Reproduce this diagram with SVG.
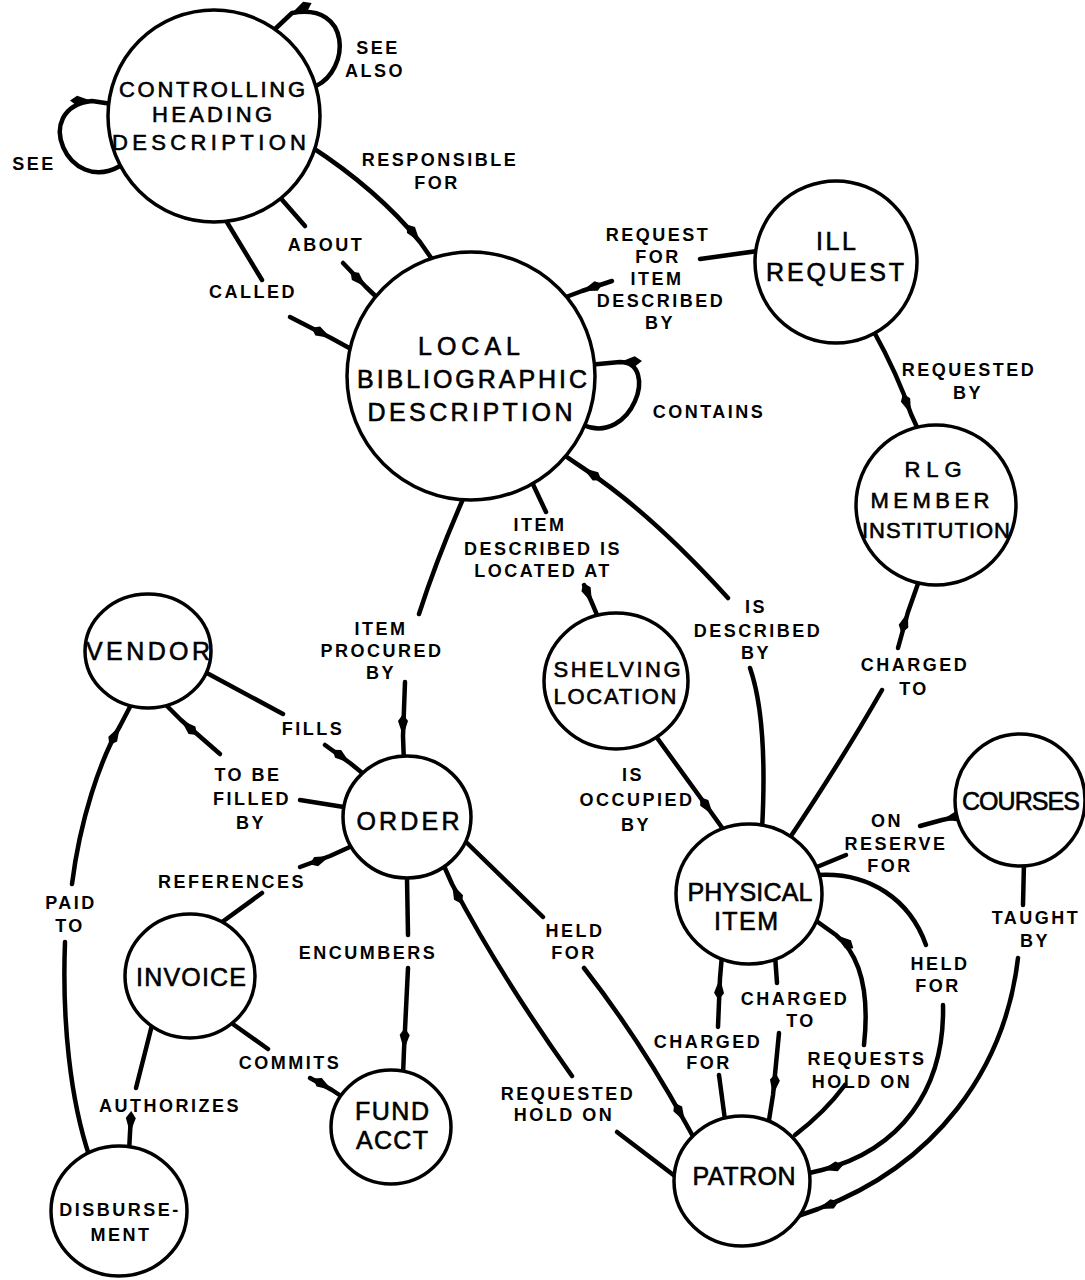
<svg xmlns="http://www.w3.org/2000/svg" width="1085" height="1280" viewBox="0 0 1085 1280">
<defs>
<marker id="ah" markerUnits="userSpaceOnUse" markerWidth="24" markerHeight="14" viewBox="0 0 24 14" refX="22" refY="7" orient="auto"><path d="M0,7 L7,2 L22,7 L7,12 z" fill="#000"/></marker>
<style>
.n{fill:#fff;stroke:#000;stroke-width:3.5}
.c{fill:none;stroke:#000;stroke-width:4.5;stroke-linecap:round;stroke-linejoin:round}
.a{marker-mid:url(#ah)}
.nl{font-family:"Liberation Sans",Arial,sans-serif;font-size:25px;text-anchor:middle;fill:#000;stroke:#000;stroke-width:0.6}
.sm{font-size:22px}
.el{font-family:"Liberation Sans",Arial,sans-serif;font-size:18px;font-weight:bold;letter-spacing:2.5px;text-anchor:middle;fill:#000}
</style>
</defs>
<rect width="1085" height="1280" fill="#fff"/>
<g id="connectors">
<path class="c a" d="M120,166 C68,196 30,108 92,101 L112,104"/>
<path class="c a" d="M316,86 C350,70 352,2 292,13 L274,30"/>
<path class="c a" d="M310,146 Q378,190 420,242 L434,262"/>
<path class="c" d="M277,194 L305,226"/>
<path class="c a" d="M343,263 L366,287 L388,308"/>
<path class="c" d="M222,214 L262,280"/>
<path class="c a" d="M290,317 L331,338 L362,355"/>
<path class="c a" d="M583,425 C632,446 660,362 620,362 L588,365"/>
<path class="c" d="M765,250 L700,259"/>
<path class="c a" d="M612,281 L582,291 L558,300"/>
<path class="c a" d="M873,330 Q898,375 911,414 L921,436"/>
<path class="c" d="M785,845 Q842,760 882,690"/>
<path class="c a" d="M898,648 L908,612 L920,578"/>
<path class="c" d="M467,490 Q438,555 419,614"/>
<path class="c a" d="M405,682 L403,736 L404,764"/>
<path class="c" d="M530,478 L546,512"/>
<path class="c a" d="M584,585 L592,603 L600,622"/>
<path class="c" d="M762,830 Q768,720 750,668"/>
<path class="c a" d="M728,598 Q650,512 583,468 L558,451"/>
<path class="c a" d="M655,735 L713,815 L728,836"/>
<path class="c a" d="M965,815 L942,820 L920,826"/>
<path class="c" d="M846,855 L812,869"/>
<path class="c" d="M1024,862 L1023,905"/>
<path class="c a" d="M1018,958 C1005,1070 935,1165 818,1209 L795,1217"/>
<path class="c" d="M818,875 C870,872 910,900 926,945"/>
<path class="c a" d="M943,1005 C945,1090 900,1150 822,1170 L805,1174"/>
<path class="c" d="M795,1135 Q825,1112 845,1085"/>
<path class="c a" d="M864,1045 C870,990 860,955 836,935 L815,920"/>
<path class="c" d="M775,955 L777,983"/>
<path class="c a" d="M779,1033 L773,1095 L769,1120"/>
<path class="c" d="M725,1120 L719,1075"/>
<path class="c a" d="M718,1027 L720,978 L722,955"/>
<path class="c" d="M466,842 L543,917"/>
<path class="c a" d="M584,968 Q640,1040 685,1122 L695,1140"/>
<path class="c" d="M680,1180 L617,1132"/>
<path class="c a" d="M572,1076 Q500,975 452,884 L444,866"/>
<path class="c" d="M205,672 L283,714"/>
<path class="c a" d="M325,745 L350,763 L366,776"/>
<path class="c" d="M350,808 L300,800"/>
<path class="c a" d="M220,754 L181,720 L163,702"/>
<path class="c" d="M218,925 L262,893"/>
<path class="c a" d="M300,867 L330,856 L352,846"/>
<path class="c" d="M407,878 L408,935"/>
<path class="c a" d="M408,968 L404,1050 L403,1075"/>
<path class="c" d="M230,1022 L268,1049"/>
<path class="c a" d="M310,1078 L332,1090 L350,1102"/>
<path class="c" d="M152,1025 L136,1088"/>
<path class="c a" d="M131,1116 L130,1133 L129,1152"/>
<path class="c" d="M90,1158 C70,1100 62,1020 65,942"/>
<path class="c a" d="M72,884 C80,820 100,760 120,726 L132,703"/>
</g>
<g id="edge-labels">
<text class="el" x="34" y="170">SEE</text>
<text class="el" x="378" y="54">SEE</text>
<text class="el" x="375" y="77">ALSO</text>
<text class="el" x="440" y="166">RESPONSIBLE</text>
<text class="el" x="437" y="189">FOR</text>
<text class="el" x="326" y="251">ABOUT</text>
<text class="el" x="253" y="298">CALLED</text>
<text class="el" x="709" y="418">CONTAINS</text>
<text class="el" x="658" y="241">REQUEST</text>
<text class="el" x="658" y="263">FOR</text>
<text class="el" x="657" y="285">ITEM</text>
<text class="el" x="661" y="307">DESCRIBED</text>
<text class="el" x="660" y="329">BY</text>
<text class="el" x="969" y="376">REQUESTED</text>
<text class="el" x="968" y="399">BY</text>
<text class="el" x="540" y="531">ITEM</text>
<text class="el" x="543" y="555">DESCRIBED IS</text>
<text class="el" x="543" y="577">LOCATED AT</text>
<text class="el" x="381" y="635">ITEM</text>
<text class="el" x="382" y="657">PROCURED</text>
<text class="el" x="381" y="679">BY</text>
<text class="el" x="756" y="613">IS</text>
<text class="el" x="758" y="637">DESCRIBED</text>
<text class="el" x="756" y="659">BY</text>
<text class="el" x="915" y="671">CHARGED</text>
<text class="el" x="914" y="695">TO</text>
<text class="el" x="313" y="735">FILLS</text>
<text class="el" x="248" y="781">TO BE</text>
<text class="el" x="252" y="805">FILLED</text>
<text class="el" x="251" y="829">BY</text>
<text class="el" x="633" y="781">IS</text>
<text class="el" x="637" y="806">OCCUPIED</text>
<text class="el" x="636" y="831">BY</text>
<text class="el" x="887" y="827">ON</text>
<text class="el" x="896" y="850">RESERVE</text>
<text class="el" x="890" y="872">FOR</text>
<text class="el" x="232" y="888">REFERENCES</text>
<text class="el" x="368" y="959">ENCUMBERS</text>
<text class="el" x="575" y="937">HELD</text>
<text class="el" x="574" y="959">FOR</text>
<text class="el" x="1036" y="924">TAUGHT</text>
<text class="el" x="1035" y="947">BY</text>
<text class="el" x="940" y="970">HELD</text>
<text class="el" x="938" y="992">FOR</text>
<text class="el" x="795" y="1005">CHARGED</text>
<text class="el" x="801" y="1027">TO</text>
<text class="el" x="708" y="1048">CHARGED</text>
<text class="el" x="709" y="1069">FOR</text>
<text class="el" x="867" y="1065">REQUESTS</text>
<text class="el" x="862" y="1088">HOLD ON</text>
<text class="el" x="568" y="1100">REQUESTED</text>
<text class="el" x="564" y="1121">HOLD ON</text>
<text class="el" x="290" y="1069">COMMITS</text>
<text class="el" x="170" y="1112">AUTHORIZES</text>
<text class="el" x="71" y="909">PAID</text>
<text class="el" x="70" y="932">TO</text>
</g>
<g id="node-chd"><circle class="n" cx="214" cy="116" r="106"/>
<text class="nl sm" x="212" y="97" textLength="186">CONTROLLING</text>
<text class="nl sm" x="212" y="122" textLength="120">HEADING</text>
<text class="nl sm" x="209" y="150" textLength="194">DESCRIPTION</text></g>
<g id="node-lbd"><circle class="n" cx="471" cy="376" r="124"/>
<text class="nl" x="469" y="355" textLength="102">LOCAL</text>
<text class="nl" x="472" y="388" textLength="230">BIBLIOGRAPHIC</text>
<text class="nl" x="470" y="421" textLength="205">DESCRIPTION</text></g>
<g id="node-ill"><circle class="n" cx="836" cy="262" r="81"/>
<text class="nl" x="836" y="250" textLength="40">ILL</text>
<text class="nl" x="835" y="281" textLength="138">REQUEST</text></g>
<g id="node-rlg"><circle class="n" cx="936" cy="505" r="80"/>
<text class="nl sm" x="933" y="477" textLength="57">RLG</text>
<text class="nl sm" x="930" y="508" textLength="119">MEMBER</text>
<text class="nl sm" x="936" y="538" textLength="148">INSTITUTION</text></g>
<g id="node-vendor"><ellipse class="n" cx="148" cy="651" rx="63" ry="57"/>
<text class="nl" x="148" y="660" textLength="124">VENDOR</text></g>
<g id="node-order"><ellipse class="n" cx="407" cy="817" rx="64" ry="61"/>
<text class="nl" x="408" y="830" textLength="103">ORDER</text></g>
<g id="node-invoice"><ellipse class="n" cx="190" cy="976" rx="65" ry="62"/>
<text class="nl" x="191" y="986" textLength="110">INVOICE</text></g>
<g id="node-fund"><ellipse class="n" cx="391" cy="1127" rx="60" ry="57"/>
<text class="nl" x="392" y="1120" textLength="74">FUND</text>
<text class="nl" x="392" y="1149" textLength="72">ACCT</text></g>
<g id="node-disbursement"><ellipse class="n" cx="119" cy="1211" rx="68" ry="65"/>
<text class="el" x="120" y="1216">DISBURSE-</text>
<text class="el" x="121" y="1241">MENT</text></g>
<g id="node-shelving"><ellipse class="n" cx="616" cy="681" rx="72" ry="68"/>
<text class="nl sm" x="617" y="677" textLength="127">SHELVING</text>
<text class="nl sm" x="615" y="704" textLength="123">LOCATION</text></g>
<g id="node-physical"><ellipse class="n" cx="749" cy="894" rx="73" ry="70"/>
<text class="nl" x="750" y="901" textLength="125">PHYSICAL</text>
<text class="nl" x="746" y="930" textLength="64">ITEM</text></g>
<g id="node-courses"><ellipse class="n" cx="1020" cy="800" rx="65" ry="66"/>
<text class="nl" x="1021" y="810" textLength="118">COURSES</text></g>
<g id="node-patron"><ellipse class="n" cx="742" cy="1181" rx="68" ry="65"/>
<text class="nl" x="744" y="1185" textLength="103">PATRON</text></g>
</svg>
